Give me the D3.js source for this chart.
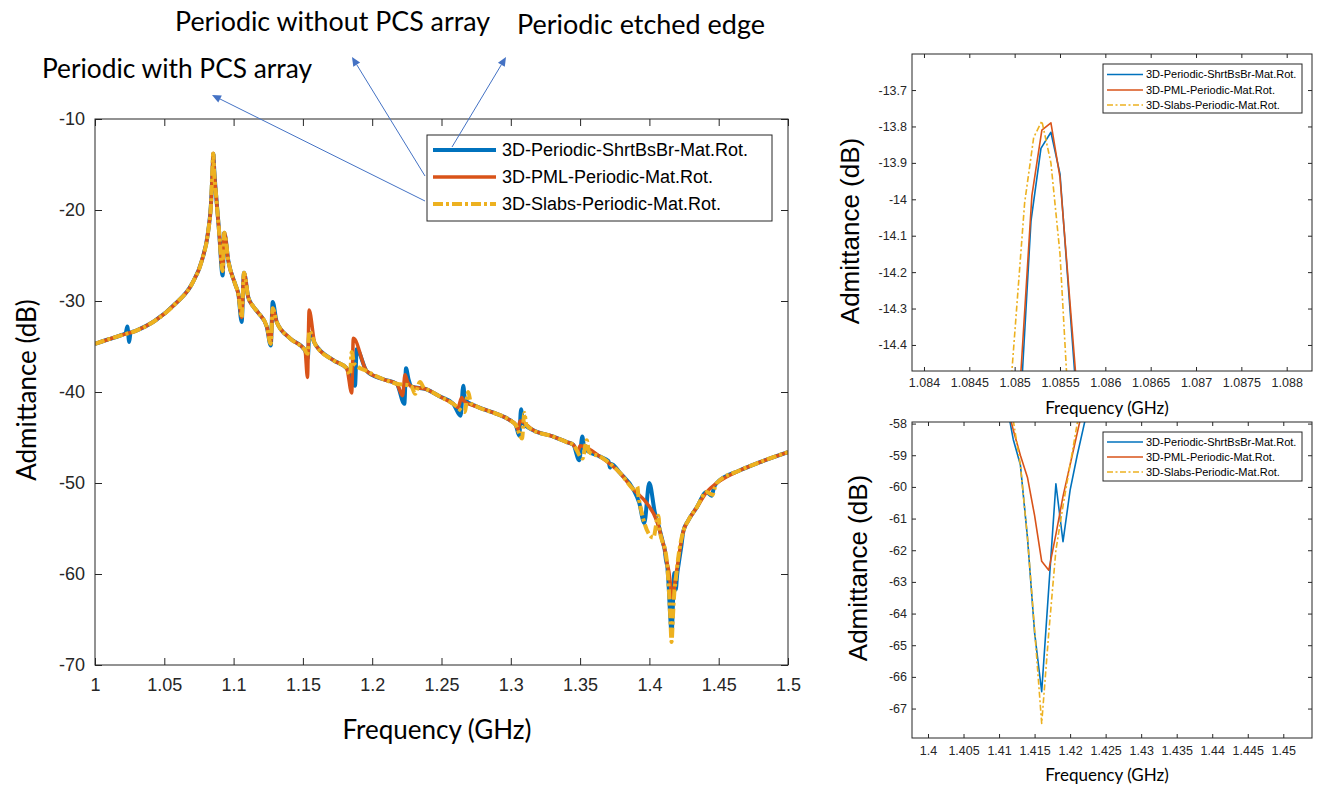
<!DOCTYPE html>
<html>
<head>
<meta charset="utf-8">
<script src="https://cdn.jsdelivr.net/npm/d3@7"></script>
<style>
  body { margin: 0; background: #fff; }
  .tick text { font-family: "Liberation Sans", Arial, sans-serif; fill: #262626; }
  .tick line { stroke: #262626; }
</style>
</head>
<body>
<svg id="fig" width="1323" height="787"></svg>
<script>
const seriesNames = ["3D-Periodic-ShrtBsBr-Mat.Rot.", "3D-PML-Periodic-Mat.Rot.", "3D-Slabs-Periodic-Mat.Rot."];
const colors = ["#0072BD", "#D95319", "#EDB120"];

// common smooth background of the three curves (GHz, dB)
const baseF = [1.000, 1.010, 1.018, 1.029, 1.043, 1.058, 1.070, 1.077, 1.0817, 1.0837, 1.0875, 1.0895, 1.0962, 1.101, 1.1035,
  1.1106, 1.1142, 1.1178, 1.1239, 1.1311, 1.1407, 1.1515, 1.1587, 1.1719, 1.1816, 1.196, 1.208, 1.2177, 1.2285, 1.2393,
  1.2489, 1.2585, 1.2754, 1.2898, 1.2994, 1.3035, 1.3162, 1.3307, 1.3403, 1.3451, 1.3644, 1.3788, 1.3884, 1.410, 1.4245,
  1.4281, 1.4341, 1.4413, 1.4486, 1.4654, 1.4798, 1.500];
const baseDb = [-34.7, -34.2, -33.8, -33.3, -32.2, -30.3, -28.1, -25.6, -22.3, -19.3, -18.6, -22.3, -25.6, -28.1, -29.3,
  -29.6, -30.6, -31.3, -32.8, -32.3, -34.1, -35.4, -34.7, -36.5, -37.4, -37.7, -38.6, -39.1, -39.4, -39.7,
  -40.5, -41.3, -41.6, -42.4, -43.1, -43.6, -44.2, -44.9, -45.5, -45.8, -47.1, -48.9, -50.7, -56.7, -55.3,
  -54.1, -52.7, -51.0, -50.0, -48.6, -47.7, -46.6];

// resonance wiggles of each curve
const blueFeatF = [1.0222, 1.0233, 1.0247, 1.0256, 1.0921, 1.0933, 1.1058, 1.1075, 1.1268, 1.1282, 1.1535, 1.1547,
  1.1876, 1.1888, 1.2232, 1.2244, 1.2262, 1.2638, 1.2657, 1.2670, 1.3061, 1.3074, 1.3088, 1.3494, 1.3516, 1.3530,
  1.3705, 1.3716, 1.3725, 1.3927, 1.3963, 1.3999, 1.4040, 1.4065, 1.4449, 1.4466];
const blueFeatDb = [-33.5, -32.8, -34.5, -33.5, -27.2, -22.5, -32.3, -26.9, -34.9, -30.1, -36.3, -33.5,
  -39.3, -35.3, -41.3, -37.4, -38.6, -42.6, -39.3, -40.9, -44.8, -41.9, -43.4, -47.5, -44.9, -46.2,
  -47.6, -48.3, -47.9, -52.2, -54.4, -50.0, -53.3, -54.6, -51.4, -50.5];
const redFeatF = [1.0921, 1.0933, 1.1058, 1.1075, 1.1268, 1.1282, 1.1533, 1.1545, 1.1852, 1.1864, 1.2219, 1.2237,
  1.2255, 1.2619, 1.2646, 1.2662, 1.3052, 1.3066, 1.3485, 1.3500, 1.3980, 1.4052];
const redFeatDb = [-26.7, -22.5, -31.8, -26.9, -34.7, -30.8, -38.4, -31.0, -40.1, -34.1, -40.4, -38.1,
  -38.9, -41.7, -40.6, -41.0, -44.1, -43.2, -46.5, -45.9, -52.2, -54.1];
const yellowFeatF = [1.0921, 1.0933, 1.1058, 1.1075, 1.1268, 1.1282, 1.1534, 1.1547, 1.1840, 1.1852, 1.1870, 1.2273,
  1.2309, 1.2345, 1.2375, 1.2667, 1.2693, 1.2712, 1.3081, 1.3098, 1.3112, 1.3518, 1.3548, 1.3565, 1.3905, 1.3913,
  1.3922, 1.4028, 1.4064, 1.4075, 1.4455, 1.4470];
const yellowFeatDb = [-26.7, -22.5, -31.8, -26.9, -34.7, -30.8, -35.8, -33.3, -38.1, -35.6, -36.9, -39.3,
  -40.2, -38.9, -39.6, -42.2, -40.0, -41.2, -45.1, -42.3, -43.6, -47.3, -45.3, -46.6, -51.0, -50.4,
  -51.6, -56.0, -53.6, -55.2, -51.3, -50.6];

// zoom on the main peak
const peakBlueF = [1.0850, 1.08518, 1.08529, 1.0854, 1.0855, 1.08566, 1.0858];
const peakBlueDb = [-14.85, -14.06, -13.86, -13.816, -13.93, -14.47, -14.95];
const peakRedF = [1.0850, 1.08519, 1.0853, 1.0854, 1.0855, 1.08567, 1.0858];
const peakRedDb = [-14.75, -13.99, -13.81, -13.79, -13.94, -14.47, -14.95];
const peakYellowF = [1.0849, 1.08511, 1.08521, 1.0853, 1.0854, 1.0855, 1.0856];
const peakYellowDb = [-14.7, -14.01, -13.83, -13.785, -13.9, -14.15, -14.6];

// zoom on the anti-resonance
const dipBlueF = [1.411, 1.412, 1.413, 1.414, 1.415, 1.416, 1.418, 1.419, 1.420, 1.421, 1.422, 1.423];
const dipBlueDb = [-57.3, -58.5, -59.3, -61.6, -64.6, -66.47, -59.9, -61.73, -60.1, -59.0, -58.0, -57.0];
const dipRedF = [1.411, 1.412, 1.413, 1.414, 1.415, 1.416, 1.417, 1.418, 1.419, 1.420, 1.421, 1.422, 1.423];
const dipRedDb = [-57.3, -58.2, -59.0, -59.7, -60.9, -62.35, -62.63, -61.5, -60.3, -59.3, -58.3, -57.3, -56.4];
const dipYellowF = [1.411, 1.412, 1.413, 1.414, 1.415, 1.416, 1.417, 1.418, 1.419, 1.420, 1.421, 1.422, 1.423];
const dipYellowDb = [-57.1, -57.9, -59.3, -61.6, -64.5, -67.47, -64.6, -62.0, -60.6, -59.3, -58.0, -57.0, -56.2];

// tick values
const mainXTicks = [1, 1.05, 1.1, 1.15, 1.2, 1.25, 1.3, 1.35, 1.4, 1.45, 1.5];
const mainYTicks = [-70, -60, -50, -40, -30, -20, -10];
const peakXTicks = [1.084, 1.0845, 1.085, 1.0855, 1.086, 1.0865, 1.087, 1.0875, 1.088];
const peakYTicks = [-14.4, -14.3, -14.2, -14.1, -14, -13.9, -13.8, -13.7];
const dipXTicks = [1.4, 1.405, 1.41, 1.415, 1.42, 1.425, 1.43, 1.435, 1.44, 1.445, 1.45];
const dipYTicks = [-67, -66, -65, -64, -63, -62, -61, -60, -59, -58];

const zipPts = (f, v) => f.map((d, i) => [d, v[i]]);
const byF = (a, b) => a[0] - b[0];
const base = zipPts(baseF, baseDb);
const mainSeries = [
  base.concat(zipPts(blueFeatF, blueFeatDb), zipPts(peakBlueF, peakBlueDb), zipPts(dipBlueF, dipBlueDb)).sort(byF),
  base.concat(zipPts(redFeatF, redFeatDb), zipPts(peakRedF, peakRedDb), zipPts(dipRedF, dipRedDb)).sort(byF),
  base.concat(zipPts(yellowFeatF, yellowFeatDb), zipPts(peakYellowF, peakYellowDb), zipPts(dipYellowF, dipYellowDb)).sort(byF)
];
const peakSeries = [zipPts(peakBlueF, peakBlueDb), zipPts(peakRedF, peakRedDb), zipPts(peakYellowF, peakYellowDb)];
const dipSeries = [zipPts(dipBlueF, dipBlueDb), zipPts(dipRedF, dipRedDb), zipPts(dipYellowF, dipYellowDb)];

const svg = d3.select("#fig");
svg.append("rect").attr("width", 1323).attr("height", 787).attr("fill", "#fff");

const fmt = (d) => String(+d.toFixed(4));

function panel(id, box, xDom, yDom, xTicks, yTicks, series, o) {
  const x = d3.scaleLinear().domain(xDom).range([0, box.w]);
  const y = d3.scaleLinear().domain(yDom).range([box.h, 0]);
  const g = svg.append("g").attr("transform", `translate(${box.x},${box.y})`);

  g.append("clipPath").attr("id", id).append("rect").attr("width", box.w).attr("height", box.h);

  const xb = g.append("g").attr("transform", `translate(0,${box.h})`)
    .call(d3.axisBottom(x).tickValues(xTicks).tickSize(-o.tick).tickPadding(o.xPad).tickFormat(fmt));
  g.append("g").call(d3.axisTop(x).tickValues(xTicks).tickSize(-o.tick).tickFormat(""));
  g.append("g")
    .call(d3.axisLeft(y).tickValues(yTicks).tickSize(-o.tick).tickPadding(o.yPad).tickFormat(fmt));
  g.append("g").attr("transform", `translate(${box.w},0)`)
    .call(d3.axisRight(y).tickValues(yTicks).tickSize(-o.tick).tickFormat(""));
  g.selectAll(".domain").remove();
  g.selectAll(".tick text").attr("font-size", o.font).attr("fill", o.tickColor);
  xb.selectAll(".tick text").attr("dy", "0.75em");

  const line = d3.line().x((d) => x(d[0])).y((d) => y(d[1])).curve(o.curve || d3.curveLinear);
  const lines = g.append("g").attr("clip-path", `url(#${id})`);
  series.forEach((pts, i) => {
    lines.append("path")
      .attr("d", line(pts))
      .attr("fill", "none")
      .attr("stroke", colors[i])
      .attr("stroke-width", o.widths[i])
      .attr("stroke-linejoin", "round")
      .attr("stroke-dasharray", i === 2 ? o.dash : null);
  });

  g.append("rect").attr("width", box.w).attr("height", box.h)
    .attr("fill", "none").attr("stroke", "#262626").attr("stroke-width", 1);

  // legend
  const L = o.legend;
  const lg = svg.append("g");
  lg.append("rect").attr("x", L.x).attr("y", L.y).attr("width", L.w).attr("height", L.h)
    .attr("fill", "#fff").attr("stroke", "#262626").attr("stroke-width", 1);
  seriesNames.forEach((name, i) => {
    const ry = L.rows[i];
    lg.append("line").attr("x1", L.x0).attr("x2", L.x1).attr("y1", ry).attr("y2", ry)
      .attr("stroke", colors[i]).attr("stroke-width", o.widths[i])
      .attr("stroke-dasharray", i === 2 ? o.dash : null);
    lg.append("text").attr("x", L.tx).attr("y", ry).attr("dy", "0.35em")
      .attr("font-family", "'Liberation Sans', Arial, sans-serif")
      .attr("font-size", L.font).attr("fill", "#000").text(name);
  });
  return { g, x, y };
}

panel("clipMain", { x: 95, y: 119, w: 693, h: 546 }, [1, 1.5], [-70, -10], mainXTicks, mainYTicks, mainSeries, {
  tick: 7, xPad: 12, yPad: 10, font: 18, tickColor: "#262626",
  widths: [4, 3.5, 4], dash: "10,3,3,3", curve: d3.curveMonotoneX,
  legend: { x: 427, y: 135, w: 345, h: 86, rows: [150, 177, 204], x0: 433, x1: 496, tx: 502, font: 18 }
});

panel("clipPeak", { x: 912, y: 54, w: 400, h: 317 }, [1.083868, 1.088279], [-14.4715, -13.601], peakXTicks, peakYTicks, peakSeries, {
  tick: 4, xPad: 7, yPad: 5, font: 12.5, tickColor: "#333",
  widths: [1.6, 1.6, 1.6], dash: "6,2.5,2,2.5",
  legend: { x: 1103, y: 64, w: 199, h: 49, rows: [74.5, 90, 105], x0: 1107, x1: 1143, tx: 1146, font: 11 }
});

panel("clipDip", { x: 912, y: 422, w: 400, h: 316 }, [1.39775, 1.45404], [-67.93, -57.95], dipXTicks, dipYTicks, dipSeries, {
  tick: 4, xPad: 8, yPad: 5, font: 12.5, tickColor: "#333",
  widths: [1.6, 1.6, 1.6], dash: "6,2.5,2,2.5",
  legend: { x: 1103, y: 432, w: 199, h: 49, rows: [442, 457, 472], x0: 1107, x1: 1143, tx: 1146, font: 11 }
});

// axis titles
const lato = "Lato, 'Open Sans', sans-serif";
const arial = "'Liberation Sans', Arial, sans-serif";
svg.append("text").attr("transform", "translate(36,390) rotate(-90)").attr("text-anchor", "middle")
  .attr("font-family", lato).attr("font-size", 26).text("Admittance (dB)");
svg.append("text").attr("x", 437).attr("y", 739).attr("text-anchor", "middle")
  .attr("font-family", lato).attr("font-size", 26).text("Frequency (GHz)");
svg.append("text").attr("transform", "translate(859,231) rotate(-90)").attr("text-anchor", "middle")
  .attr("font-family", arial).attr("font-size", 26).text("Admittance (dB)");
svg.append("text").attr("transform", "translate(867,568) rotate(-90)").attr("text-anchor", "middle")
  .attr("font-family", arial).attr("font-size", 26).text("Admittance (dB)");
svg.append("text").attr("x", 1107).attr("y", 414).attr("text-anchor", "middle")
  .attr("font-family", lato).attr("font-size", 17).text("Frequency (GHz)");
svg.append("text").attr("x", 1107).attr("y", 781).attr("text-anchor", "middle")
  .attr("font-family", lato).attr("font-size", 17).text("Frequency (GHz)");

// callouts pointing at the legend entries
const notes = [
  { text: "Periodic with PCS array", x: 42, y: 78, len: 270, head: [212, 95], tail: [425, 201] },
  { text: "Periodic without PCS array", x: 175, y: 31, len: 315, head: [352, 57], tail: [425, 176] },
  { text: "Periodic etched edge", x: 517, y: 34, len: 248, head: [506, 57], tail: [452, 147] }
];
notes.forEach((n) => {
  svg.append("text").attr("x", n.x).attr("y", n.y)
    .attr("font-family", lato).attr("font-size", 26)
    .attr("textLength", n.len).attr("lengthAdjust", "spacingAndGlyphs").text(n.text);
  const [hx, hy] = n.head, [tx, ty] = n.tail;
  const a = Math.atan2(hy - ty, hx - tx);
  const back = 9, half = 4;
  const bx = hx - back * Math.cos(a), by = hy - back * Math.sin(a);
  svg.append("line").attr("x1", tx).attr("y1", ty).attr("x2", bx).attr("y2", by)
    .attr("stroke", "#4472C4").attr("stroke-width", 1);
  svg.append("path")
    .attr("d", `M${hx},${hy}L${bx - half * Math.sin(a)},${by + half * Math.cos(a)}L${bx + half * Math.sin(a)},${by - half * Math.cos(a)}Z`)
    .attr("fill", "#4472C4");
});
</script>
</body>
</html>
